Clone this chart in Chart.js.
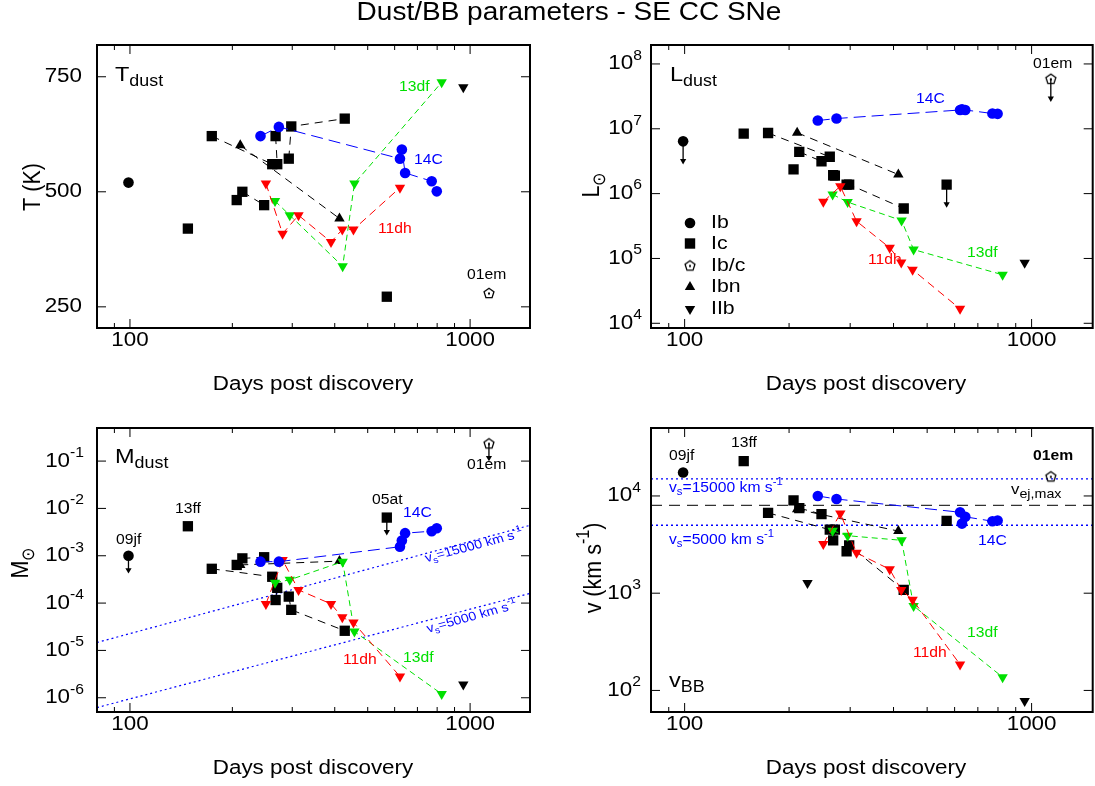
<!DOCTYPE html>
<html>
<head>
<meta charset="utf-8">
<script src="https://cdn.jsdelivr.net/npm/chart.js@4.4.1/dist/chart.umd.min.js"></script>
<style>
html, body { margin: 0; padding: 0; background: #fff; overflow: hidden; width: 1095px; height: 786px; }
canvas { position: absolute; left: 0; top: 0; }
</style>
</head>
<body>
<canvas id="cT" width="1100" height="786"></canvas>
<canvas id="cL" width="1100" height="786"></canvas>
<canvas id="cM" width="1100" height="786"></canvas>
<canvas id="cV" width="1100" height="786"></canvas>
<script>
// ---- tick values ----
var dayMajor = [100, 1000];
var dayMinor = [90, 200, 300, 400, 500, 600, 700, 800, 900];
var tTicks = [250, 500, 750];
var lTicks = [1e4, 1e5, 1e6, 1e7, 1e8];
var mTicks = [1e-6, 1e-5, 1e-4, 1e-3, 1e-2, 1e-1];
var vTicks = [1e2, 1e3, 1e4];

// ---- data (days post discovery) ----
// SN 2009jf (Ib)
var sn09jf_days = [99];
var sn09jf_T = [520];
var sn09jf_L = [6.4e6];
var sn09jf_M = [1.0e-3];
var sn09jf_v = [1.74e4];
// SN 2013ff (Ic)
var sn13ff_days = [148];
var sn13ff_T = [420];
var sn13ff_L = [8.4e6];
var sn13ff_M = [4.2e-3];
var sn13ff_v = [2.28e4];
// SN 2005at (Ic)
var sn05at_days = [569];
var sn05at_T = [272];
var sn05at_L = [1.38e6];
var sn05at_M = [6.4e-3];
var sn05at_v = [5.55e3];
// SN 2001em (Ib/c)
var sn01em_days = [1136];
var sn01em_T = [280];
var sn01em_L = [5.9e7];
var sn01em_M = [0.236];
var sn01em_v = [1.59e4];
// other Ic
var icA_days = [174, 262];
var icA_T = [621, 560];
var icA_L = [8.6e6, 3.7e6];
var icA_M = [5.3e-4, 3.6e-4];
var icA_v = [6.7e3, 4.5e3];
var icB_days = [268, 271];
var icB_T = [621, 560];
var icB_L = [1.92e6, 1.9e6];
var icB_M = [1.16e-4, 2.1e-4];
var icB_v = [3.5e3, 4.5e3];
var icC_days = [293, 298, 428];
var icC_T = [572, 642, 659];
var icC_L = [1.38e6, 1.38e6, 5.9e5];
var icC_M = [1.37e-4, 7.2e-5, 2.6e-5];
var icC_v = [2.7e3, 3.1e3, 1.08e3];
var icD_days = [214, 248];
var icD_T = [500, 471];
var icD_L = [4.4e6, 3.16e6];
var icD_M = [8.8e-4, 9.3e-4];
var icD_v = [7.5e3, 6.5e3];
var icE_days = [206];
var icE_T = [482];
var icE_L = [2.36e6];
var icE_M = [6.4e-4];
var icE_v = [9.0e3];
// Ibn
var ibn_days = [211, 413];
var ibn_T = [601, 442];
var ibn_L = [8.7e6, 1.97e6];
var ibn_M = [6.4e-4, 7.7e-4];
var ibn_v = [7.3e3, 4.35e3];
// other IIb
var iib_days = [226, 955];
var iib_T = [null, 727];
var iib_L = [null, 8.6e4];
var iib_M = [null, 1.9e-6];
var iib_v = [1.27e3, 78];
// SN 2014C
var sn14C_days = [242, 274, 622, 630, 644, 771, 798];
var sn14C_T = [621, 641, 572, 592, 541, 523, 501];
var sn14C_L = [1.34e7, 1.44e7, 1.95e7, 2.0e7, 1.95e7, 1.72e7, 1.7e7];
var sn14C_M = [7.5e-4, 7.5e-4, 1.55e-3, 2.1e-3, 3.0e-3, 3.3e-3, 3.8e-3];
var sn14C_v = [1.0e4, 9.3e3, 6.8e3, 5.2e3, 6.1e3, 5.5e3, 5.6e3];
// SN 2011dh
var sn11dh_days = [251, 281, 313, 390, 421, 454, 622];
var sn11dh_T = [518, 409, 449, 391, 418, 418, 509];
var sn11dh_L = [7.5e5, 1.3e6, 3.75e5, 1.46e5, 8.7e4, 6.7e4, 1.67e4];
var sn11dh_M = [9.6e-5, 8.1e-4, 1.9e-4, 9.6e-5, 5.0e-5, 3.9e-5, 2.8e-6];
var sn11dh_v = [3.2e3, 6.6e3, 2.6e3, 1.76e3, 1.08e3, 855, 185];
// SN 2013df
var sn13df_days = [267, 295, 422, 457, 825];
var sn13df_T = [480, 449, 338, 518, 738];
var sn13df_L = [9.7e5, 7.4e5, 3.85e5, 1.37e5, 5.6e4];
var sn13df_M = [2.7e-4, 3.1e-4, 7.5e-4, 2.5e-5, 1.2e-6];
var sn13df_v = [4.4e3, 3.9e3, 3.5e3, 740, 137];

// reference lines
var refDays = [80, 1500];
var vShock = [15000, 5000];
var vEjMax = 8000;
var mSweep15000 = [1.47e-5, 4.4e-3];
var mSweep5000 = [6.2e-7, 1.6e-4];

// ---- styles ----
var CW = 1100, CH = 786;
var SX = 1.12;
var FONT = '"Liberation Sans", Arial, Helvetica, sans-serif';
var BLUE = '#0000ff', GREEN = '#00e000', RED = '#ff0000';

function makePent() {
    var c = document.createElement('canvas');
    c.width = 14; c.height = 14;
    var g = c.getContext('2d');
    g.strokeStyle = '#000'; g.lineWidth = 1.3;
    g.beginPath();
    for (var i = 0; i < 5; i++) {
        var a = -Math.PI / 2 + i * 2 * Math.PI / 5;
        var px = 7 + 5.2 * Math.cos(a), py = 7.4 + 5.2 * Math.sin(a);
        if (i) g.lineTo(px, py); else g.moveTo(px, py);
    }
    g.closePath(); g.stroke();
    g.fillStyle = '#000'; g.fillRect(6, 6.5, 2, 2);
    return c;
}
var PENT = makePent();

var S = {
    ib:   { color: '#000', shape: 'circle', r: 5.3 },
    ic:   { color: '#000', shape: 'rect', r: 7.3 },
    icl:  { color: '#000', shape: 'rect', r: 7.3, line: true, dash: [8, 6] },
    ibn:  { color: '#000', shape: 'triangle', r: 6, line: true, dash: [8, 6] },
    iib:  { color: '#000', shape: 'triangle', r: 6, rot: 180 },
    ibc:  { color: '#000', shape: PENT, r: 6 },
    c14:  { color: BLUE, shape: 'circle', r: 5.3, line: true, dash: [12, 6] },
    c11:  { color: RED, shape: 'triangle', r: 6, rot: 180, line: true, dash: [8, 5] },
    c13:  { color: GREEN, shape: 'triangle', r: 6, rot: 180, line: true, dash: [6, 4] }
};

function ds(days, vals, s) {
    var data = [];
    days.forEach(function (d, i) { if (vals[i] != null) data.push({ x: d, y: vals[i] }); });
    return {
        data: data, showLine: !!s.line, borderColor: s.color, borderWidth: 1,
        borderDash: s.dash || [], pointStyle: s.shape, pointRadius: s.r,
        pointRotation: s.rot || 0, pointBackgroundColor: s.color,
        pointBorderColor: s.color, pointBorderWidth: 0
    };
}
function refLine(xs, ys, color, dash, w) {
    return {
        data: [{ x: xs[0], y: ys[0] }, { x: xs[1], y: ys[1] }], showLine: true,
        borderColor: color, borderDash: dash, borderWidth: w, pointRadius: 0
    };
}
function arrow(d, v) {
    return {
        data: [{ x: d, y: v }, { x: d, y: v * 0.5 }], showLine: true,
        borderColor: '#000', borderWidth: 1.3, pointStyle: 'triangle',
        pointRadius: [0, 3.6], pointRotation: 180,
        pointBackgroundColor: '#000', pointBorderWidth: 0
    };
}

function seriesFor(k) {
    var g = {
        T: [sn14C_T, sn11dh_T, sn13df_T, sn09jf_T, sn13ff_T, sn05at_T, sn01em_T, icA_T, icB_T, icC_T, icD_T, icE_T, ibn_T, iib_T],
        L: [sn14C_L, sn11dh_L, sn13df_L, sn09jf_L, sn13ff_L, sn05at_L, sn01em_L, icA_L, icB_L, icC_L, icD_L, icE_L, ibn_L, iib_L],
        M: [sn14C_M, sn11dh_M, sn13df_M, sn09jf_M, sn13ff_M, sn05at_M, sn01em_M, icA_M, icB_M, icC_M, icD_M, icE_M, ibn_M, iib_M],
        v: [sn14C_v, sn11dh_v, sn13df_v, sn09jf_v, sn13ff_v, sn05at_v, sn01em_v, icA_v, icB_v, icC_v, icD_v, icE_v, ibn_v, iib_v]
    }[k];
    var d = [sn14C_days, sn11dh_days, sn13df_days, sn09jf_days, sn13ff_days, sn05at_days, sn01em_days, icA_days, icB_days, icC_days, icD_days, icE_days, ibn_days, iib_days];
    var st = [S.c14, S.c11, S.c13, S.ib, S.ic, S.ic, S.ibc, S.icl, S.icl, S.icl, S.icl, S.ic, S.ibn, S.iib];
    return g.map(function (vals, i) { return ds(d[i], vals, st[i]); });
}

// ---- text helper: parts = [[text, 0 normal | 1 sub | 2 sup], ...] ----
function rich(ctx, parts, x, y, o) {
    o = o || {};
    var size = o.size || 20, sm = o.small || 0.72;
    ctx.save();
    ctx.fillStyle = o.color || '#000';
    ctx.textBaseline = 'middle';
    ctx.translate(x, y);
    ctx.scale(SX, 1);
    if (o.rot) ctx.rotate(o.rot);
    function fontOf(k) { return (o.bold ? 'bold ' : '') + (k ? size * sm : size) + 'px ' + FONT; }
    var w = 0, ws = [];
    parts.forEach(function (p) { ctx.font = fontOf(p[1]); var m = ctx.measureText(p[0]).width; ws.push(m); w += m; });
    var cx = o.align === 'center' ? -w / 2 : o.align === 'right' ? -w : 0;
    parts.forEach(function (p, i) {
        ctx.font = fontOf(p[1]);
        var dy = p[1] === 1 ? size * 0.33 : p[1] === 2 ? -size * 0.4 : 0;
        ctx.fillText(p[0], cx, dy);
        cx += ws[i];
    });
    ctx.restore();
}

function marker(ctx, kind, x, y) {
    ctx.fillStyle = '#000';
    ctx.beginPath();
    if (kind === 'circle') ctx.arc(x, y, 5.3, 0, 2 * Math.PI);
    else if (kind === 'rect') ctx.rect(x - 5.2, y - 5.2, 10.4, 10.4);
    else if (kind === 'tri' || kind === 'tridown') {
        var s = kind === 'tri' ? 1 : -1;
        ctx.moveTo(x, y - 6 * s); ctx.lineTo(x + 5.2, y + 3 * s); ctx.lineTo(x - 5.2, y + 3 * s); ctx.closePath();
    } else if (kind === 'pent') { ctx.drawImage(PENT, x - 7, y - 7); return; }
    ctx.fill();
}

function drawDecor(chart, P) {
    var ctx = chart.ctx, a = chart.chartArea, xs = chart.scales.x, ys = chart.scales.y;
    ctx.save();
    ctx.strokeStyle = '#000';
    ctx.lineWidth = 1;
    function seg(x1, y1, x2, y2) { ctx.beginPath(); ctx.moveTo(x1, y1); ctx.lineTo(x2, y2); ctx.stroke(); }
    dayMinor.forEach(function (d) { var px = xs.getPixelForValue(d); seg(px, a.bottom, px, a.bottom - 5); seg(px, a.top, px, a.top + 5); });
    dayMajor.forEach(function (d) { var px = xs.getPixelForValue(d); seg(px, a.bottom, px, a.bottom - 9); seg(px, a.top, px, a.top + 9); });
    P.yTicks.forEach(function (v) { var py = ys.getPixelForValue(v); seg(a.left, py, a.left + 9, py); seg(a.right, py, a.right - 9, py); });
    ctx.lineWidth = 2;
    ctx.strokeRect(a.left, a.top, a.right - a.left, a.bottom - a.top);

    dayMajor.forEach(function (d) { rich(ctx, [[String(d), 0]], xs.getPixelForValue(d), P.xLabelY, { align: 'center' }); });
    P.yTicks.forEach(function (v) {
        var py = ys.getPixelForValue(v);
        var parts = P.yExp ? [['10', 0], [String(Math.round(Math.log10(v))), 2]] : [[String(v), 0]];
        rich(ctx, parts, P.yLabelX, py, { align: 'right', small: 0.7 });
    });
    rich(ctx, [['Days post discovery', 0]], P.xTitleX, P.xTitleY, { align: 'center' });
    rich(ctx, P.yTitle, P.yTitleX, P.yTitleY, { align: 'center', rot: -Math.PI / 2, small: 0.75, size: 21.5 });
    P.texts.forEach(function (t) { rich(ctx, t.p, t.x, t.y, t); });
    if (P.legend) {
        var rows = [['Ib', 'circle'], ['Ic', 'rect'], ['Ib/c', 'pent'], ['Ibn', 'tri'], ['IIb', 'tridown']];
        var ly = [223, 243.5, 265.5, 287, 309];
        rows.forEach(function (r, i) { marker(ctx, r[1], 690, ly[i]); rich(ctx, [[r[0], 0]], 711, ly[i], { size: 19 }); });
    }
    if (P.title) rich(ctx, [['Dust/BB parameters - SE CC SNe', 0]], 569, 13, { align: 'center', size: 25 });
    ctx.restore();
}

function makeChart(id, P) {
    return new Chart(document.getElementById(id), {
        type: 'scatter',
        data: { datasets: P.datasets },
        options: {
            responsive: false, animation: false, devicePixelRatio: 1, events: [],
            layout: { padding: { left: P.box[0], top: P.box[1], right: CW - P.box[2], bottom: CH - P.box[3] } },
            plugins: { legend: { display: false }, tooltip: { enabled: false } },
            scales: {
                x: { type: 'logarithmic', min: 80, max: 1500, display: false },
                y: { type: P.yType, min: P.yMin, max: P.yMax, display: false }
            }
        },
        plugins: [{ id: 'decor_' + id, afterDatasetsDraw: function (c) { drawDecor(c, P); } }]
    });
}

var lab = function (s, x, y, c, extra) {
    var o = { p: [[s, 0]], x: x, y: y, size: 14, color: c || '#000' };
    if (extra) for (var k in extra) o[k] = extra[k];
    return o;
};
var vsParts = function (n) { return [['v', 0], ['s', 1], ['=' + n + ' km s', 0], ['-1', 2]]; };

// T dust
makeChart('cT', {
    box: [97, 45, 530, 328], yType: 'linear', yMin: 204, yMax: 819, yTicks: tTicks, yExp: false,
    yLabelX: 82, xLabelY: 340, xTitleX: 313, xTitleY: 384,
    yTitle: [['T (K)', 0]], yTitleX: 33, yTitleY: 187, title: true,
    datasets: seriesFor('T'),
    texts: [
        { p: [['T', 0], ['dust', 1]], x: 115, y: 75, size: 21, small: 0.76 },
        lab('13df', 399, 87, GREEN), lab('14C', 414, 160, BLUE),
        lab('11dh', 378, 229, RED), lab('01em', 467, 275)
    ]
});

// L dust
makeChart('cL', {
    box: [651, 45, 1096.6, 328], yType: 'logarithmic', yMin: 8.46e3, yMax: 1.96e8, yTicks: lTicks, yExp: true,
    yLabelX: 642, xLabelY: 340, xTitleX: 866, xTitleY: 384,
    yTitle: [['L', 0], ['\u2299', 1]], yTitleX: 592, yTitleY: 185, legend: true,
    datasets: [
        arrow(sn09jf_days[0], sn09jf_L[0]), arrow(sn05at_days[0], sn05at_L[0]), arrow(sn01em_days[0], sn01em_L[0])
    ].concat(seriesFor('L')),
    texts: [
        { p: [['L', 0], ['dust', 1]], x: 670, y: 75, size: 21, small: 0.76 },
        lab('14C', 916, 99, BLUE), lab('01em', 1033, 64),
        lab('13df', 967, 253, GREEN), lab('11dh', 868, 260, RED)
    ]
});

// M dust
makeChart('cM', {
    box: [97, 428, 530, 712], yType: 'logarithmic', yMin: 5e-7, yMax: 0.5, yTicks: mTicks, yExp: true,
    yLabelX: 84, xLabelY: 724, xTitleX: 313, xTitleY: 768,
    yTitle: [['M', 0], ['\u2299', 1]], yTitleX: 21, yTitleY: 563,
    datasets: [
        arrow(sn09jf_days[0], sn09jf_M[0]), arrow(sn05at_days[0], sn05at_M[0]), arrow(sn01em_days[0], sn01em_M[0])
    ].concat(seriesFor('M')).concat([
        refLine(refDays, mSweep15000, BLUE, [2, 3], 1.2),
        refLine(refDays, mSweep5000, BLUE, [2, 3], 1.2)
    ]),
    texts: [
        { p: [['M', 0], ['dust', 1]], x: 115, y: 457, size: 21, small: 0.76 },
        lab('13ff', 175, 509), lab('09jf', 116, 540), lab('05at', 372, 500),
        lab('14C', 403, 513, BLUE), lab('01em', 467, 465),
        lab('11dh', 343, 660, RED), lab('13df', 403, 658, GREEN),
        { p: vsParts(15000), x: 474, y: 546, size: 12.5, color: BLUE, align: 'center', rot: -0.29 },
        { p: vsParts(5000), x: 472, y: 617, size: 12.5, color: BLUE, align: 'center', rot: -0.3 }
    ]
});

// v BB
makeChart('cV', {
    box: [651, 428, 1096.6, 712], yType: 'logarithmic', yMin: 60, yMax: 5e4, yTicks: vTicks, yExp: true,
    yLabelX: 641, xLabelY: 724, xTitleX: 866, xTitleY: 768,
    yTitle: [['v (km s', 0], ['-1', 2], [')', 0]], yTitleX: 594, yTitleY: 568,
    datasets: seriesFor('v').concat([
        refLine(refDays, [vEjMax, vEjMax], '#333', [11, 7], 1.3),
        refLine(refDays, [vShock[0], vShock[0]], BLUE, [2, 3], 1.3),
        refLine(refDays, [vShock[1], vShock[1]], BLUE, [2, 3], 1.3)
    ]),
    texts: [
        { p: [['v', 0], ['BB', 1]], x: 669, y: 681, size: 21, small: 0.76 },
        lab('09jf', 669, 456), lab('13ff', 731, 443),
        { p: vsParts(15000), x: 669, y: 488, size: 14, color: BLUE },
        { p: vsParts(5000), x: 669, y: 540, size: 14, color: BLUE },
        lab('01em', 1033, 456, '#000', { bold: true }),
        { p: [['v', 0], ['ej,max', 1]], x: 1011, y: 490, size: 15, small: 0.85 },
        lab('14C', 978, 541, BLUE), lab('13df', 967, 633, GREEN), lab('11dh', 913, 653, RED)
    ]
});
</script>
</body>
</html>
